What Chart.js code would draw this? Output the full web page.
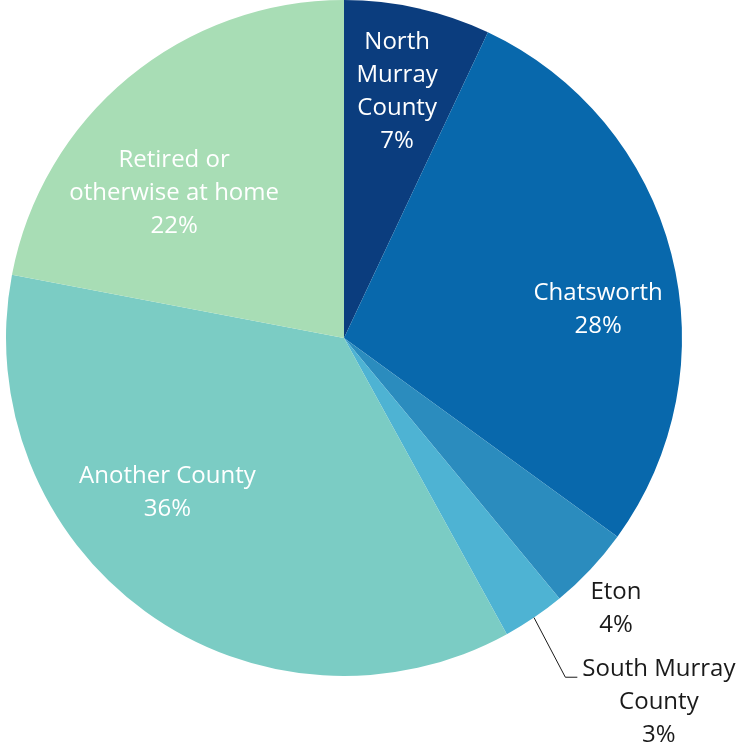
<!DOCTYPE html>
<html>
<head>
<meta charset="utf-8">
<script src="https://cdn.jsdelivr.net/npm/chart.js@4.4.0/dist/chart.umd.min.js"></script>
<style>
  html, body { margin: 0; padding: 0; background: #fff; }
  #wrap { width: 736px; height: 746px; }
</style>
</head>
<body>
<div id="wrap"><canvas id="workPie" width="736" height="746"></canvas></div>
<script>
// Where residents work, share of respondents (%)
const places = [
  ['North', 'Murray', 'County'],
  ['Chatsworth'],
  ['Eton'],
  ['South Murray', 'County'],
  ['Another County'],
  ['Retired or', 'otherwise at home']
]
const shares = [7, 28, 4, 3, 36, 22]

const sliceColors = ['#0b3d7e', '#0868ac', '#2b8cbe', '#4eb3d3', '#7bccc4', '#a8ddb5']

// label placement: angle shift from slice middle (deg), distance as fraction of radius
const labelPlacement = [
  { shift: -0.5, dist: 0.75, color: '#ffffff' },
  { shift: 7.7, dist: 0.757, color: '#ffffff' },
  { shift: 1.4, dist: 1.13, color: '#1a1a1a' },
  { shift: -6.8, dist: 1.42, color: '#1a1a1a', leader: true },
  { shift: 13.2, dist: 0.69, color: '#ffffff' },
  { shift: -9.5, dist: 0.665, color: '#ffffff' }
]

const FONT = '24px "Open Sans", Lato, sans-serif'
const LINE_H = 33

const sliceLabels = {
  id: 'sliceLabels',
  afterDatasetsDraw (chart) {
    const { ctx } = chart
    const arcs = chart.getDatasetMeta(0).data
    ctx.save()
    ctx.font = FONT
    ctx.textAlign = 'center'
    ctx.textBaseline = 'middle'
    arcs.forEach((arc, i) => {
      const p = labelPlacement[i]
      const mid = (arc.startAngle + arc.endAngle) / 2
      const a = mid + p.shift * Math.PI / 180
      const r = arc.outerRadius * p.dist
      const cx = arc.x + Math.cos(a) * r
      const cy = arc.y + Math.sin(a) * r + 2
      const lines = places[i].concat([shares[i] + '%'])
      const top = cy - (lines.length - 1) * LINE_H / 2

      if (p.leader) {
        const w = ctx.measureText(lines[0]).width
        const left = cx - w / 2
        ctx.strokeStyle = '#1a1a1a'
        ctx.lineWidth = 1
        ctx.beginPath()
        ctx.moveTo(arc.x + Math.cos(mid) * arc.outerRadius, arc.y + Math.sin(mid) * arc.outerRadius)
        ctx.lineTo(left - 17, top + 8)
        ctx.lineTo(left - 5, top + 8)
        ctx.stroke()
      }

      ctx.fillStyle = p.color
      lines.forEach((t, k) => ctx.fillText(t, cx, top + k * LINE_H))
    })
    ctx.restore()
  }
}

new Chart(document.getElementById('workPie'), {
  type: 'pie',
  data: {
    labels: places.map(l => l.join(' ')),
    datasets: [{
      data: shares,
      backgroundColor: sliceColors,
      borderWidth: 0
    }]
  },
  options: {
    responsive: false,
    animation: false,
    layout: { padding: { left: 6, top: 0, right: 54, bottom: 70 } },
    plugins: {
      legend: { display: false },
      tooltip: { enabled: false }
    }
  },
  plugins: [sliceLabels]
})
</script>
</body>
</html>
